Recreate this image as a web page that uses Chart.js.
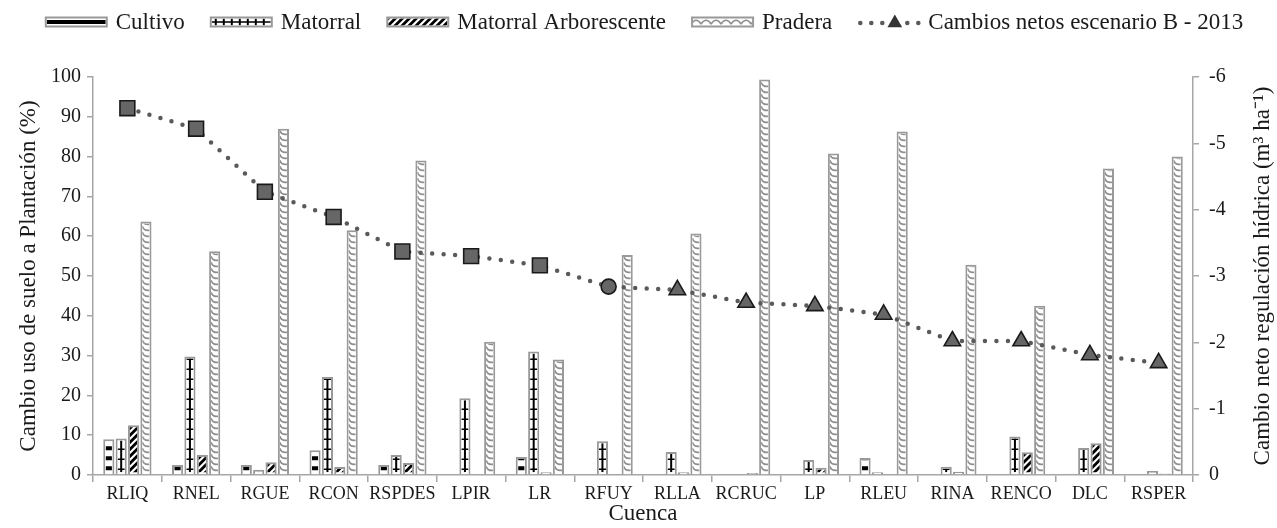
<!DOCTYPE html>
<html>
<head>
<meta charset="utf-8">
<script src="https://cdn.jsdelivr.net/npm/chart.js@4.4.1/dist/chart.umd.min.js"></script>
<style>
  html, body { margin: 0; padding: 0; background: #fff; }
  #wrap { width: 1277px; height: 528px; }
</style>
</head>
<body>
<div id="wrap"><canvas id="chart" width="1277" height="528"></canvas></div>
<script>
// --- data ---
const cuencas = ["RLIQ", "RNEL", "RGUE", "RCON", "RSPDES", "LPIR", "LR", "RFUY",
                 "RLLA", "RCRUC", "LP", "RLEU", "RINA", "RENCO", "DLC", "RSPER"];

const cultivo   = [9.0, 2.5, 2.5, 6.2, 2.5, 0, 4.5, 0, 0, 0, 0.2, 4.3, 0, 0, 0.3, 0];
const matorral  = [9.2, 29.8, 1.3, 24.6, 5.0, 19.3, 31.0, 8.5, 5.8, 0, 3.8, 0.7, 2.1, 9.7, 6.8, 1.0];
const matorralArb = [12.5, 5.0, 3.2, 2.0, 3.0, 0, 0.7, 0, 0.7, 0.5, 1.8, 0, 0.8, 5.7, 8.0, 0.4];
const pradera   = [63.7, 56.2, 87.0, 61.5, 79.0, 33.5, 29.0, 55.3, 60.7, 99.4, 80.8, 86.3, 52.8, 42.5, 77.0, 80.0];

// net change, right axis (m3/ha)
const cambiosNetos = [-5.53, -5.22, -4.27, -3.89, -3.37, -3.30, -3.16, -2.84,
                      -2.79, -2.60, -2.55, -2.42, -2.02, -2.02, -1.81, -1.69];
const pointShapes = ["rect", "rect", "rect", "rect", "rect", "rect", "rect", "circle",
                     "triangle", "triangle", "triangle", "triangle", "triangle", "triangle", "triangle", "triangle"];

const leftTicks = [0, 10, 20, 30, 40, 50, 60, 70, 80, 90, 100];
const rightTicks = [-6, -5, -4, -3, -2, -1, 0];

const FONT = "'Liberation Serif', 'Times New Roman', serif";
const AXIS_GREY = "#a6a6a6";
const BAR_BORDER = "#999999";
const TEXT = "#1a1a1a";

// pattern painters, inner rect of a bar or a legend swatch
function paintPattern(ctx, kind, l, t, w, h) {
  if (w <= 0 || h <= 0) return;
  ctx.save();
  ctx.beginPath();
  ctx.rect(l, t, w, h);
  ctx.clip();
  const b = t + h;
  if (kind === "cultivo") {
    ctx.fillStyle = "#000";
    if (w > 20) {
      ctx.fillRect(l, t + h / 2 - 2, w, 4);
    } else {
      for (let y = b - 2; y > t - 4; y -= 10) ctx.fillRect(l + 0.5, y - 4, w - 1, 4);
    }
  } else if (kind === "matorral") {
    ctx.strokeStyle = "#000";
    ctx.lineWidth = 1.6;
    ctx.beginPath();
    if (w > 20) {
      ctx.moveTo(l, t + h / 2); ctx.lineTo(l + w, t + h / 2);
    } else {
      for (let y = b - 3; y > t; y -= 10) { ctx.moveTo(l, y); ctx.lineTo(l + w, y); }
    }
    ctx.stroke();
    ctx.lineWidth = 2;
    ctx.beginPath();
    if (w > 20) {
      for (let x = l + 4; x < l + w; x += 8) { ctx.moveTo(x, t); ctx.lineTo(x, b); }
    } else {
      ctx.moveTo(l + w / 2, t); ctx.lineTo(l + w / 2, b);
    }
    ctx.stroke();
  } else if (kind === "arb") {
    ctx.strokeStyle = "#000";
    ctx.lineWidth = 2.8;
    ctx.beginPath();
    const hh = Math.max(h, 8);
    for (let s = -hh - 8; s < w + 8; s += 7) {
      ctx.moveTo(l + s, b + 2); ctx.lineTo(l + s + hh + 4, b - hh - 2);
    }
    ctx.stroke();
  } else if (kind === "pradera") {
    ctx.strokeStyle = "#8f8f8f";
    ctx.lineWidth = 1.6;
    ctx.beginPath();
    if (w > 20) {
      for (let x = l - 2; x < l + w; x += 10) {
        ctx.moveTo(x, t + h * 0.8);
        ctx.quadraticCurveTo(x + 5, t - 2, x + 10, t + h * 0.8);
      }
    } else {
      for (let y = b - 2; y > t - 6; y -= 6) {
        ctx.moveTo(l, y - 4);
        ctx.quadraticCurveTo(l + w * 0.2, y + 1, l + w, y);
      }
    }
    ctx.stroke();
  }
  ctx.restore();
}

const patternKinds = ["cultivo", "matorral", "arb", "pradera"];

// fill each bar with its pattern right after its dataset is drawn
const barPatterns = {
  id: "barPatterns",
  afterDatasetDraw(chart, args) {
    const kind = patternKinds[args.index];
    if (!kind) return;
    const ctx = chart.ctx;
    const bw = 2;
    ctx.save();
    args.meta.data.forEach(el => {
      const p = el.getProps(["x", "y", "base", "width"], true);
      const top = Math.min(p.y, p.base), bot = Math.max(p.y, p.base);
      paintPattern(ctx, kind, p.x - p.width / 2 + bw, top + bw, p.width - 2 * bw, bot - top - 2 * bw);
    });
    ctx.restore();
  }
};

// legend across the top and the right-hand axis title
const topLegend = {
  id: "topLegend",
  afterDraw(chart) {
    const ctx = chart.ctx;
    const labels = chart.data.datasets.map(d => d.label);
    ctx.save();
    ctx.font = "23px " + FONT;
    ctx.textBaseline = "middle";
    const sw = 63, sh = 11, gapText = 8, gapItem = 25;
    let total = 0;
    labels.forEach(t => total += sw + gapText + ctx.measureText(t).width);
    total += gapItem * (labels.length - 1);
    let x = 644 - total / 2;
    const cy = 22;
    labels.forEach((t, i) => {
      if (i < 4) {
        ctx.fillStyle = "#fff";
        ctx.fillRect(x, cy - sh / 2, sw, sh);
        paintPattern(ctx, patternKinds[i], x + 2, cy - sh / 2 + 2, sw - 4, sh - 4);
        ctx.strokeStyle = BAR_BORDER;
        ctx.lineWidth = 2;
        ctx.strokeRect(x + 1, cy - sh / 2 + 1, sw - 2, sh - 2);
      } else {
        ctx.fillStyle = "#5a5a5a";
        [3, 14, 25, 50, 61].forEach(dx => {
          ctx.beginPath(); ctx.arc(x + dx, cy + 1, 2.3, 0, Math.PI * 2); ctx.fill();
        });
        const tx = x + 37.5, r = 8.5, ty = cy + 1;
        ctx.beginPath();
        ctx.moveTo(tx, ty - r);
        ctx.lineTo(tx + r * 0.866, ty + r * 0.5);
        ctx.lineTo(tx - r * 0.866, ty + r * 0.5);
        ctx.closePath();
        ctx.fillStyle = "#333";
        ctx.fill();
      }
      x += sw + gapText;
      ctx.fillStyle = TEXT;
      ctx.textAlign = "left";
      ctx.fillText(t, x, cy + 1);
      x += ctx.measureText(t).width + gapItem;
    });

    // right axis title, reading bottom to top
    const ya = chart.scales.y2;
    ctx.translate(1263, (ya.top + ya.bottom) / 2);
    ctx.rotate(-Math.PI / 2);
    ctx.textAlign = "center";
    ctx.font = "23px " + FONT;
    ctx.fillText("Cambio neto regulación hídrica (m³ ha⁻¹)", 0, 0);
    ctx.restore();
  }
};

const barBase = {
  type: "bar",
  yAxisID: "y",
  backgroundColor: "#ffffff",
  borderColor: BAR_BORDER,
  borderWidth: 2,
  categoryPercentage: 0.72,
  barPercentage: 0.9,
  order: 1
};

new Chart(document.getElementById("chart"), {
  data: {
    labels: cuencas,
    datasets: [
      { ...barBase, label: "Cultivo", data: cultivo },
      { ...barBase, label: "Matorral", data: matorral },
      { ...barBase, label: "Matorral Arborescente", data: matorralArb },
      { ...barBase, label: "Pradera", data: pradera },
      {
        type: "line",
        label: "Cambios netos escenario B - 2013",
        data: cambiosNetos,
        yAxisID: "y2",
        order: 0,
        borderColor: "#5a5a5a",
        borderWidth: 4.5,
        borderDash: [0, 11.5],
        borderCapStyle: "round",
        fill: false,
        tension: 0,
        pointStyle: pointShapes,
        pointRadius: pointShapes.map(s => s === "rect" ? 10.5 : (s === "circle" ? 7.5 : 9.5)),
        pointBackgroundColor: "#666666",
        pointBorderColor: "#1a1a1a",
        pointBorderWidth: 1.6
      }
    ]
  },
  options: {
    responsive: false,
    animation: false,
    layout: { padding: { top: 77, left: 0, right: 0, bottom: 0 } },
    plugins: {
      legend: { display: false },
      tooltip: { enabled: false }
    },
    scales: {
      x: {
        offset: true,
        grid: { display: true, drawOnChartArea: false, offset: true, color: AXIS_GREY, lineWidth: 1.5, tickLength: 7 },
        border: { color: AXIS_GREY, width: 1.5 },
        ticks: { color: TEXT, font: { family: FONT, size: 18 }, padding: 1, maxRotation: 0, autoSkip: false },
        title: { display: true, text: "Cuenca", color: TEXT, font: { family: FONT, size: 23 }, padding: { top: -6, bottom: 0 } },
        afterFit(s) { s.height = 53; }
      },
      y: {
        position: "left",
        min: 0, max: 100,
        afterBuildTicks(s) { s.ticks = leftTicks.map(v => ({ value: v })); },
        grid: { display: true, drawOnChartArea: false, color: AXIS_GREY, lineWidth: 1.5, tickLength: 6 },
        border: { color: AXIS_GREY, width: 1.5 },
        ticks: { color: TEXT, font: { family: FONT, size: 20 }, padding: 6 },
        title: { display: true, text: "Cambio uso de suelo a Plantación (%)", color: TEXT, font: { family: FONT, size: 23 }, padding: { top: 15, bottom: 4 } },
        afterFit(s) { s.width = 93; }
      },
      y2: {
        position: "right",
        min: -6, max: 0,
        reverse: true,
        afterBuildTicks(s) { s.ticks = rightTicks.map(v => ({ value: v })); },
        grid: { display: true, drawOnChartArea: false, color: AXIS_GREY, lineWidth: 1.5, tickLength: 6 },
        border: { color: AXIS_GREY, width: 1.5 },
        ticks: { color: TEXT, font: { family: FONT, size: 20 }, padding: 10 },
        afterFit(s) { s.width = 84; }
      }
    }
  },
  plugins: [barPatterns, topLegend]
});
</script>
</body>
</html>
